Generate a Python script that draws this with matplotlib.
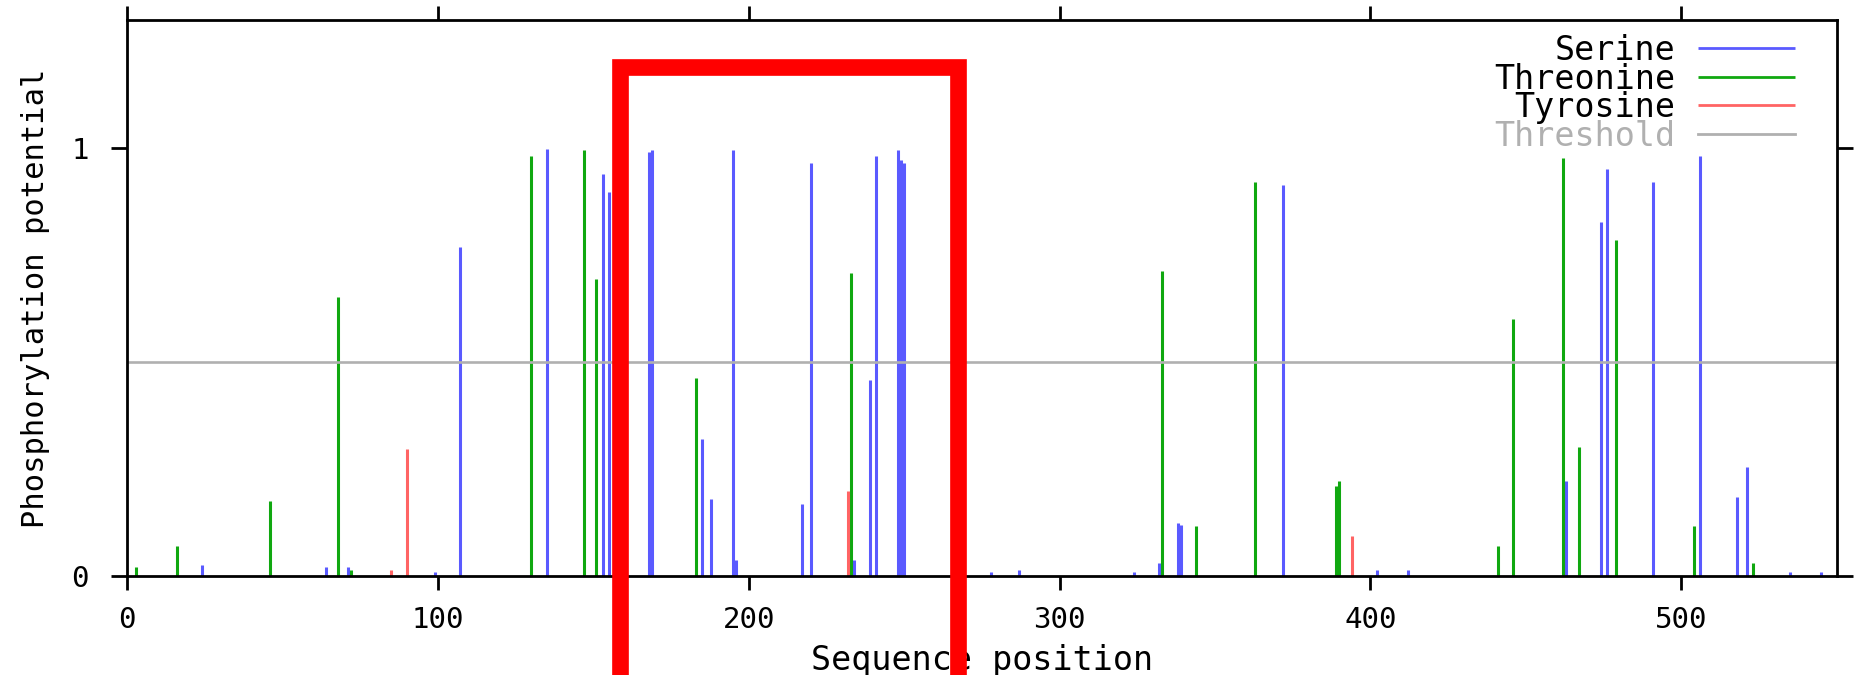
import matplotlib

matplotlib.use("Agg")
import matplotlib.pyplot as plt
from matplotlib.patches import Rectangle

# values
serine_pos = [24, 64, 71, 99, 107, 135, 153, 155, 168, 169, 185, 188, 195, 196,
              217, 220, 234, 239, 241, 248, 249, 250, 278, 287, 324, 332, 338, 339,
              372, 402, 412, 463, 474, 476, 491, 506, 518, 521, 535, 545]
serine_val = [0.026, 0.02, 0.02, 0.008, 0.769, 0.999, 0.940, 0.897, 0.991, 0.996,
              0.321, 0.18, 0.996, 0.038, 0.168, 0.966, 0.038, 0.457, 0.983, 0.996,
              0.973, 0.966, 0.008, 0.013, 0.008, 0.031, 0.124, 0.119, 0.915, 0.013,
              0.013, 0.222, 0.829, 0.953, 0.922, 0.983, 0.185, 0.254, 0.008, 0.008]

threonine_pos = [3, 16, 46, 68, 72, 130, 147, 151, 183, 233, 333, 344, 363, 389,
                 390, 441, 446, 462, 467, 479, 504, 523]
threonine_val = [0.02, 0.069, 0.175, 0.653, 0.013, 0.983, 0.996, 0.695, 0.463,
                 0.708, 0.713, 0.117, 0.922, 0.21, 0.222, 0.069, 0.602, 0.978,
                 0.301, 0.786, 0.117, 0.031]

tyrosine_pos = [85, 90, 232, 394]
tyrosine_val = [0.013, 0.296, 0.198, 0.094]

threshold = 0.5
seq_length = 550
highlight = (158.6, 267.2, 1.19)  # red box: from, to, top

BLUE = "#5a5aff"
GREEN = "#10a810"
RED = "#ff6464"
GREY = "#b0b0b0"

plt.rcParams["font.family"] = ["DejaVu Sans Mono", "DejaVu Sans"]

fig = plt.figure(figsize=(18.61, 6.75), dpi=100)
ax = fig.add_axes([0.0682, 0.147, 0.9188, 0.823])

lw = 2.2
ax.vlines(serine_pos, 0, serine_val, colors=BLUE, lw=lw, label="Serine", zorder=2)
ax.vlines(threonine_pos, 0, threonine_val, colors=GREEN, lw=lw, label="Threonine", zorder=2)
ax.vlines(tyrosine_pos, 0, tyrosine_val, colors=RED, lw=lw, label="Tyrosine", zorder=2)
ax.axhline(threshold, color=GREY, lw=1.9, label="Threshold", zorder=3)

ax.set_xlim(0, seq_length)
ax.set_ylim(0, 1.3)
ax.set_xticks(range(0, 501, 100))
ax.set_yticks([0, 1])

for s in ax.spines.values():
    s.set_linewidth(2.0)
    s.set_zorder(4)

ax.tick_params(axis="x", which="both", direction="out", length=10, width=2.0,
               top=True, labeltop=False, labelsize=21, pad=12)
ax.tick_params(axis="y", which="both", direction="out", length=11.5, width=2.0,
               right=True, labelright=False, labelsize=21, pad=16)

ax.set_xlabel("Sequence position", fontsize=24)
ax.xaxis.set_label_coords(0.5, -0.152)
ax.xaxis.label.set_va("center")
ax.set_ylabel("Phosphorylation potential", fontsize=22)
ax.yaxis.set_label_coords(-0.0535, 0.5)
ax.yaxis.label.set_va("center")

leg = ax.legend(loc="upper right", bbox_to_anchor=(0.9754, 0.975), frameon=False,
                markerfirst=False, fontsize=24, handlelength=2.9, handletextpad=0.68,
                labelspacing=-0.135, borderpad=0, borderaxespad=0, labelcolor="linecolor")
for line in leg.get_lines():
    line.set_linewidth(2.0)

# red highlight box drawn over the chart
box = Rectangle((highlight[0], -0.6), highlight[1] - highlight[0], highlight[2] + 0.6,
                fill=False, edgecolor="#ff0000", lw=12, joinstyle="miter",
                clip_on=False, zorder=10)
ax.add_patch(box)

fig.savefig("out.png", dpi=100)
